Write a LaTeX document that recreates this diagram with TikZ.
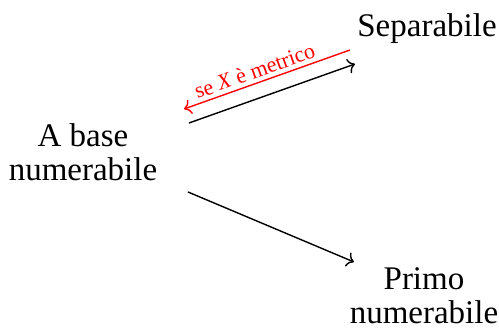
\documentclass[tikz,border=0pt]{standalone}
\usepackage{fontspec}
\setmainfont{Liberation Serif}
\usetikzlibrary{arrows.meta,calc}
\begin{document}
\begin{tikzpicture}[x=1pt,y=1pt,
  lbl/.style={inner sep=0pt, align=center, font=\fontsize{33}{34}\selectfont},
  arr/.style={line width=1.4pt, -{To[length=7pt,width=15pt]}},
  redarr/.style={arr, red}]
\useasboundingbox (0,0) rectangle (499,329);
\node[lbl, anchor=base] (Sep) at (427,292) {Separabile};
\node[lbl] (AB) at (83,176.5) {A base\\numerabile};
\node[lbl] (PN) at (424,33) {Primo\\numerabile};
\draw[arr] ($(AB.center)+(106,29.5)$) -- ($(Sep.base)+(-72,-27)$);
\draw[redarr] ($(Sep.base)+(-77,-13)$) -- node[pos=0.55, sloped, above=4pt, inner sep=0pt, font=\fontsize{22}{24}\selectfont, text=red] (M) {se \textit{X} è metrico} ($(AB.center)+(101,43.5)$);
\draw[arr] ($(AB.center)+(105,-39.5)$) -- ($(PN.center)+(-70,34)$);
\end{tikzpicture}
\end{document}
